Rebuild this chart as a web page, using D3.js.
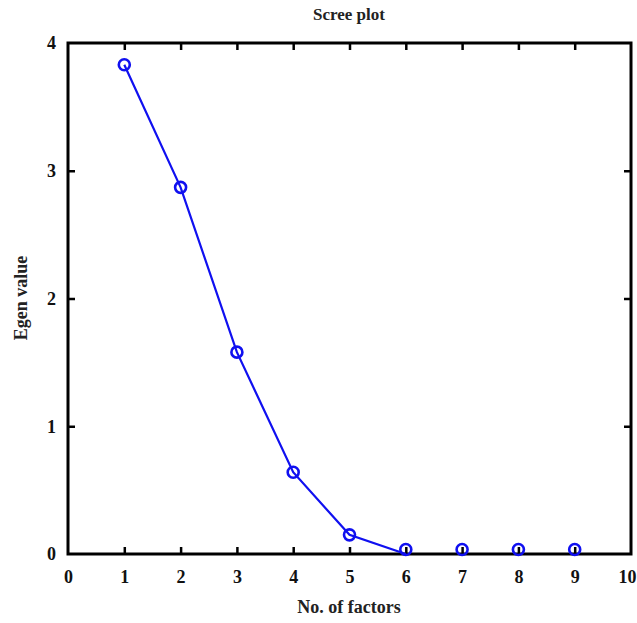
<!DOCTYPE html>
<html><head><meta charset="utf-8">
<script src="https://cdn.jsdelivr.net/npm/d3@7/dist/d3.min.js"></script>
<style>body{margin:0;background:#fff}text{font-family:"Liberation Serif","Times New Roman",serif}</style>
</head><body><svg id="c" width="637" height="623"></svg>
<script>
const factors = [1,2,3,4,5,6,7,8,9];
const eigenValues = [3.83,2.87,1.58,0.64,0.15,0.035,0.035,0.035,0.035];
const lineFactors = [1,2,3,4,5,6];
const lineValues = [3.83,2.87,1.58,0.64,0.15,0.0];
const xTicks = [0,1,2,3,4,5,6,7,8,9,10];
const yTicks = [0,1,2,3,4];

const svg = d3.select("#c");
const L=68, R=631, T=43, B=554;
const x = d3.scaleLinear().domain([0,10]).range([L,R]);
const y = d3.scaleLinear().domain([0,4]).range([B,T]);

svg.append("rect").attr("x",L).attr("y",T).attr("width",R-L).attr("height",B-T)
  .attr("fill","none").attr("stroke","#000").attr("stroke-width",3);

const tickStyle = g => { g.select(".domain").remove(); g.selectAll("line").attr("stroke","#000").attr("stroke-width",2.5); };
svg.append("g").attr("transform",`translate(0,${B})`)
  .call(d3.axisBottom(x).tickValues(xTicks).tickSize(-7).tickPadding(16).tickFormat(d3.format("d")))
  .call(tickStyle)
  .call(g=>g.selectAll("text").attr("font-size",18).attr("font-weight","600").attr("fill","#111"))
  .call(g=>g.selectAll(".tick").filter(d=>d===10).select("text").attr("dx",-4))
  .call(g=>g.selectAll(".tick").filter(d=>d===0||d===10).select("line").remove());
svg.append("g").attr("transform",`translate(0,${T})`)
  .call(d3.axisTop(x).tickValues(xTicks.filter(d=>d>0&&d<10)).tickSize(-7).tickFormat(""))
  .call(tickStyle);
svg.append("g").attr("transform",`translate(${L},0)`)
  .call(d3.axisLeft(y).tickValues(yTicks).tickSize(-7).tickPadding(12).tickFormat(d3.format("d")))
  .call(tickStyle)
  .call(g=>g.selectAll("text").attr("font-size",18).attr("font-weight","600").attr("fill","#111"))
  .call(g=>g.selectAll(".tick").filter(d=>d===0||d===4).select("line").remove());
svg.append("g").attr("transform",`translate(${R},0)`)
  .call(d3.axisRight(y).tickValues(yTicks.filter(d=>d>0&&d<4)).tickSize(-7).tickFormat(""))
  .call(tickStyle);

svg.append("path").datum(lineFactors.map((f,i)=>[f,lineValues[i]]))
  .attr("d", d3.line().x(d=>x(d[0])).y(d=>y(d[1])))
  .attr("fill","none").attr("stroke","#1010f0").attr("stroke-width",2.2);
svg.append("g").selectAll("circle").data(factors.map((f,i)=>[f,eigenValues[i]])).join("circle")
  .attr("cx",d=>x(d[0])).attr("cy",d=>y(d[1])).attr("r",5.5)
  .attr("fill","none").attr("stroke","#1010f0").attr("stroke-width",2.6);

svg.append("text").attr("x",349).attr("y",20).attr("text-anchor","middle").attr("font-size",17).attr("font-weight","600").attr("fill","#222").text("Scree plot");
svg.append("text").attr("x",349).attr("y",613).attr("text-anchor","middle").attr("font-size",18).attr("font-weight","600").attr("fill","#222").text("No. of factors");
svg.append("text").attr("transform","translate(27,298) rotate(-90)").attr("text-anchor","middle").attr("font-size",18).attr("font-weight","600").attr("fill","#222").text("Egen value");
</script></body></html>
